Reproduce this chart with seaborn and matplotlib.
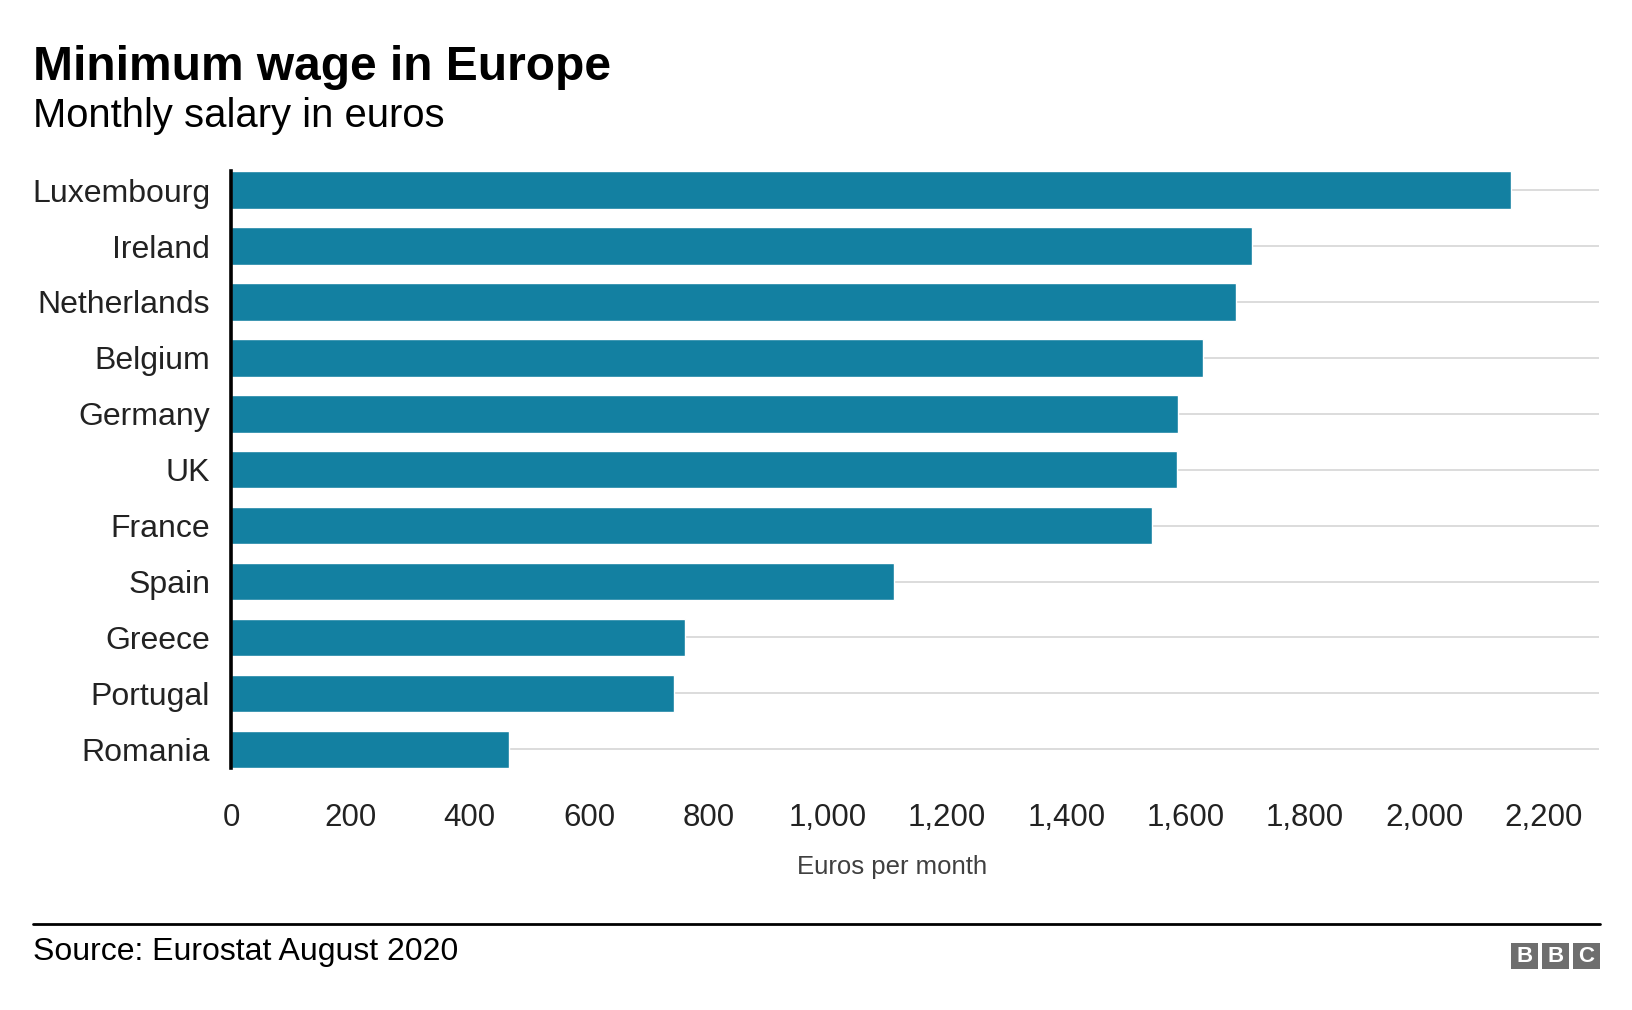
import matplotlib
matplotlib.use('Agg')
import matplotlib.pyplot as plt
from matplotlib.patches import Rectangle
from matplotlib.lines import Line2D
from matplotlib.ticker import StrMethodFormatter
import pandas as pd
import seaborn as sns

countries = ['Luxembourg', 'Ireland', 'Netherlands', 'Belgium', 'Germany', 'UK',
             'France', 'Spain', 'Greece', 'Portugal', 'Romania']
wages = [2146, 1712, 1685, 1630, 1588, 1586, 1543, 1112, 761, 743, 466]
x_ticks = [0, 200, 400, 600, 800, 1000, 1200, 1400, 1600, 1800, 2000, 2200]

title = 'Minimum wage in Europe'
subtitle = 'Monthly salary in euros'
x_label = 'Euros per month'
source = 'Source: Eurostat August 2020'

bar_color = '#1380A1'
text_color = '#222222'

df = pd.DataFrame({'country': countries, 'wage': wages})

sns.set_style('white')
plt.rcParams['font.family'] = ['Liberation Sans', 'DejaVu Sans']

fig = plt.figure(figsize=(16.32, 10.10), dpi=100)
ax = fig.add_axes([231 / 1632, 1 - 768 / 1010, (1599 - 231) / 1632, (768 - 171.4) / 1010])

sns.barplot(data=df, x='wage', y='country', orient='h', color=bar_color,
            saturation=1, width=0.67, ax=ax, zorder=3)

ax.set_xlim(0, 2293)
ax.set_ylim(len(countries) - 1 + 0.335, -0.335)
ax.set_xticks(x_ticks)
ax.xaxis.set_major_formatter(StrMethodFormatter('{x:,.0f}'))

ax.yaxis.grid(True, color='#d9d9d9', linewidth=1.3, zorder=0)
ax.xaxis.grid(False)
ax.set_axisbelow(True)

for side in ['top', 'right', 'bottom']:
    ax.spines[side].set_visible(False)
ax.spines['left'].set_color('black')
ax.spines['left'].set_linewidth(2.6)
ax.spines['left'].set_zorder(4)

ax.tick_params(axis='y', length=0, pad=15, labelsize=23, labelcolor=text_color)
ax.tick_params(axis='x', length=0, pad=25.5, labelsize=22.5, labelcolor=text_color)
ax.set_xlabel('')
ax.set_ylabel('')

fig.text(0.5466, 1 - 874 / 1010, x_label, ha='center', va='baseline', fontsize=18.5, color='#404040')

fig.text(0.0205, 0.9203, title, ha='left', va='baseline', fontsize=34.5,
         fontweight='bold', color='black')
fig.text(0.0205, 0.8747, subtitle, ha='left', va='baseline', fontsize=28.8, color='black')

# footer rule, source and logo
fig.add_artist(Line2D([0.0205, 1600 / 1632], [1 - 924 / 1010, 1 - 924 / 1010], color='black',
                      linewidth=2, transform=fig.transFigure))
fig.text(0.0205, 1 - 960 / 1010, source, ha='left', va='baseline', fontsize=23, color='black')

box_w = 27 / 1632
box_h = 26 / 1010
gap = 4 / 1632
x0 = 1511 / 1632
y0 = 1 - 969 / 1010
for i, letter in enumerate('BBC'):
    bx = x0 + i * (box_w + gap)
    fig.add_artist(Rectangle((bx, y0), box_w, box_h, transform=fig.transFigure,
                             facecolor='#6e6e6e', edgecolor='none'))
    fig.text(bx + box_w / 2, y0 + box_h / 2, letter, ha='center', va='center',
             fontsize=16, fontweight='bold', color='white')

fig.savefig('out.png', dpi=100)
